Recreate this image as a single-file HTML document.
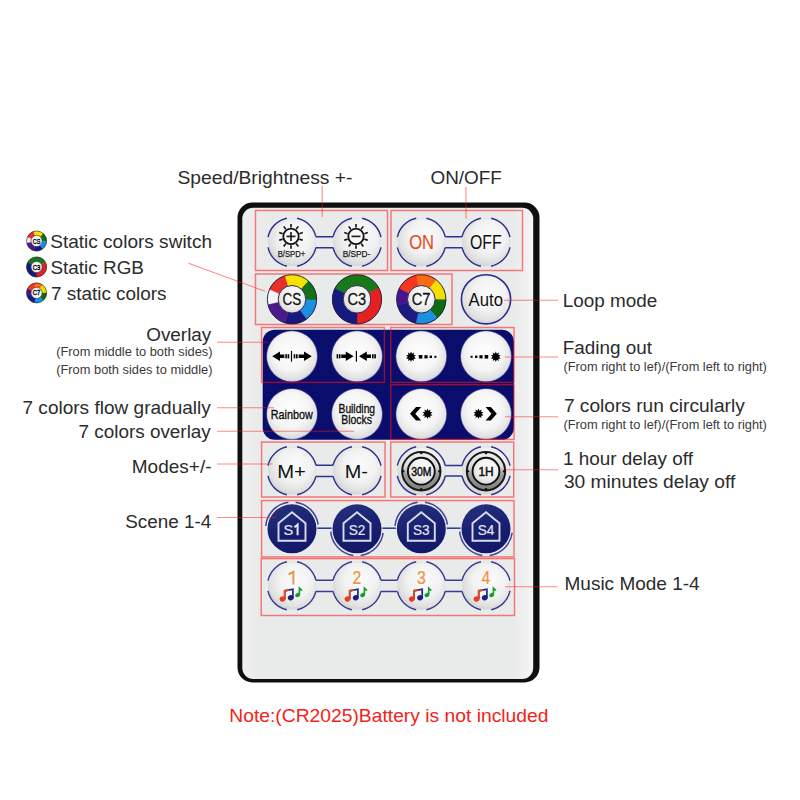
<!DOCTYPE html>
<html><head><meta charset="utf-8"><style>
html,body{margin:0;padding:0;background:#fff;width:800px;height:800px;overflow:hidden}
svg{display:block}
text{font-family:"Liberation Sans", sans-serif}
</style></head><body>
<svg width="800" height="800" viewBox="0 0 800 800">
<defs>
<radialGradient id="dome" cx="0.55" cy="0.42" r="0.62" fx="0.58" fy="0.36">
 <stop offset="0" stop-color="#fbfbfb"/>
 <stop offset="0.55" stop-color="#f2f2f2"/>
 <stop offset="0.85" stop-color="#e0e0e0"/>
 <stop offset="1" stop-color="#cdcdcf"/>
</radialGradient>
<radialGradient id="domeB" cx="0.48" cy="0.42" r="0.6">
 <stop offset="0" stop-color="#ffffff"/>
 <stop offset="0.6" stop-color="#f5f5f5"/>
 <stop offset="0.9" stop-color="#e0e0e2"/>
 <stop offset="1" stop-color="#c8c9d4"/>
</radialGradient>
<radialGradient id="glow" cx="0.5" cy="0.5" r="0.5">
 <stop offset="0.9" stop-color="#c8d0f0" stop-opacity="0.9"/>
 <stop offset="1" stop-color="#c8d0f0" stop-opacity="0"/>
</radialGradient>
<radialGradient id="shade" cx="0.5" cy="0.5" r="0.5">
 <stop offset="0.9" stop-color="#000" stop-opacity="0.10"/>
 <stop offset="1" stop-color="#000" stop-opacity="0"/>
</radialGradient>
<linearGradient id="navyG" x1="0.3" y1="0" x2="0.6" y2="1">
 <stop offset="0" stop-color="#26307e"/>
 <stop offset="0.45" stop-color="#1a2172"/>
 <stop offset="1" stop-color="#121868"/>
</linearGradient>
<linearGradient id="grayRing" x1="0" y1="0" x2="0" y2="1">
 <stop offset="0" stop-color="#eeeeee"/>
 <stop offset="0.38" stop-color="#dcdcdc"/>
 <stop offset="0.58" stop-color="#9c9c9c"/>
 <stop offset="1" stop-color="#808080"/>
</linearGradient>
<linearGradient id="surf" x1="0" y1="0" x2="1" y2="0">
 <stop offset="0" stop-color="#f0f0f0"/>
 <stop offset="0.06" stop-color="#e9eaea"/>
 <stop offset="0.93" stop-color="#e9eaea"/>
 <stop offset="0.985" stop-color="#f2f2f2"/>
 <stop offset="1" stop-color="#f4f4f4"/>
</linearGradient>
</defs>
<rect x="0" y="0" width="800" height="800" fill="#ffffff"/>
<rect x="0" y="0" width="800" height="64" fill="#fdfdfd" fill-opacity="0.6"/>
<rect x="0" y="733" width="800" height="67" fill="#fdfdfd" fill-opacity="0.6"/>

<rect x="237.5" y="202.5" width="302" height="480" rx="15" fill="#0d0f10"/>
<rect x="242.3" y="207.8" width="290.9" height="471.2" rx="11" fill="url(#surf)"/>
<rect x="262.7" y="329.8" width="251.2" height="110" rx="12" fill="#0a0d6c"/>
<path d="M268.04,237.11 A24.5,24.5 0 0 1 286.91,218.24" fill="none" stroke="#2e3390" stroke-width="1.5" opacity="1"/>
<path d="M286.91,266.16 A24.5,24.5 0 0 1 268.04,247.29" fill="none" stroke="#2e3390" stroke-width="1.5" opacity="1"/>
<path d="M297.09,218.24 A24.5,24.5 0 0 1 315.87,236.70" fill="none" stroke="#2e3390" stroke-width="1.5" opacity="1"/>
<path d="M315.87,247.70 A24.5,24.5 0 0 1 297.09,266.16" fill="none" stroke="#2e3390" stroke-width="1.5" opacity="1"/>
<path d="M315.87,236.70 H333.13 M315.87,247.70 H333.13" stroke="#2e3390" stroke-width="1.5" fill="none"/>
<path d="M333.13,236.70 A24.5,24.5 0 0 1 351.91,218.24" fill="none" stroke="#2e3390" stroke-width="1.5" opacity="1"/>
<path d="M351.91,266.16 A24.5,24.5 0 0 1 333.13,247.70" fill="none" stroke="#2e3390" stroke-width="1.5" opacity="1"/>
<path d="M362.09,218.24 A24.5,24.5 0 0 1 380.96,237.11" fill="none" stroke="#2e3390" stroke-width="1.5" opacity="1"/>
<path d="M380.96,247.29 A24.5,24.5 0 0 1 362.09,266.16" fill="none" stroke="#2e3390" stroke-width="1.5" opacity="1"/>
<path d="M397.34,237.11 A24.5,24.5 0 0 1 416.21,218.24" fill="none" stroke="#2e3390" stroke-width="1.5" opacity="1"/>
<path d="M416.21,266.16 A24.5,24.5 0 0 1 397.34,247.29" fill="none" stroke="#2e3390" stroke-width="1.5" opacity="1"/>
<path d="M426.39,218.24 A24.5,24.5 0 0 1 445.17,236.70" fill="none" stroke="#2e3390" stroke-width="1.5" opacity="1"/>
<path d="M445.17,247.70 A24.5,24.5 0 0 1 426.39,266.16" fill="none" stroke="#2e3390" stroke-width="1.5" opacity="1"/>
<path d="M445.17,236.70 H462.13 M445.17,247.70 H462.13" stroke="#2e3390" stroke-width="1.5" fill="none"/>
<path d="M462.13,236.70 A24.5,24.5 0 0 1 480.91,218.24" fill="none" stroke="#2e3390" stroke-width="1.5" opacity="1"/>
<path d="M480.91,266.16 A24.5,24.5 0 0 1 462.13,247.70" fill="none" stroke="#2e3390" stroke-width="1.5" opacity="1"/>
<path d="M491.09,218.24 A24.5,24.5 0 0 1 509.96,237.11" fill="none" stroke="#2e3390" stroke-width="1.5" opacity="1"/>
<path d="M509.96,247.29 A24.5,24.5 0 0 1 491.09,266.16" fill="none" stroke="#2e3390" stroke-width="1.5" opacity="1"/>
<circle cx="292.0" cy="242.2" r="24.7" fill="url(#shade)"/><circle cx="292.0" cy="242.2" r="23.5" fill="url(#dome)"/>
<circle cx="357.0" cy="242.2" r="24.7" fill="url(#shade)"/><circle cx="357.0" cy="242.2" r="23.5" fill="url(#dome)"/>
<circle cx="421.3" cy="242.2" r="24.7" fill="url(#shade)"/><circle cx="421.3" cy="242.2" r="23.5" fill="url(#dome)"/>
<circle cx="486.0" cy="242.2" r="24.7" fill="url(#shade)"/><circle cx="486.0" cy="242.2" r="23.5" fill="url(#dome)"/>
<circle cx="291.0" cy="236.4" r="7.7" fill="none" stroke="#111" stroke-width="1.8"/>
<line x1="291.00" y1="227.60" x2="291.00" y2="224.00" stroke="#111" stroke-width="1.6"/>
<line x1="296.17" y1="229.28" x2="298.29" y2="226.37" stroke="#111" stroke-width="1.6"/>
<line x1="299.37" y1="233.68" x2="302.79" y2="232.57" stroke="#111" stroke-width="1.6"/>
<line x1="299.37" y1="239.12" x2="302.79" y2="240.23" stroke="#111" stroke-width="1.6"/>
<line x1="296.17" y1="243.52" x2="298.29" y2="246.43" stroke="#111" stroke-width="1.6"/>
<line x1="291.00" y1="245.20" x2="291.00" y2="248.80" stroke="#111" stroke-width="1.6"/>
<line x1="285.83" y1="243.52" x2="283.71" y2="246.43" stroke="#111" stroke-width="1.6"/>
<line x1="282.63" y1="239.12" x2="279.21" y2="240.23" stroke="#111" stroke-width="1.6"/>
<line x1="282.63" y1="233.68" x2="279.21" y2="232.57" stroke="#111" stroke-width="1.6"/>
<line x1="285.83" y1="229.28" x2="283.71" y2="226.37" stroke="#111" stroke-width="1.6"/>
<line x1="286.5" y1="236.4" x2="295.5" y2="236.4" stroke="#222" stroke-width="1.7"/>
<line x1="291.0" y1="231.9" x2="291.0" y2="240.9" stroke="#222" stroke-width="1.7"/>
<text x="291.5" y="256.9" font-size="8.6" text-anchor="middle" fill="#1a1a1a" stroke="#1a1a1a" stroke-width="0.25" textLength="27.5" lengthAdjust="spacingAndGlyphs">B/SPD+</text>
<circle cx="356.0" cy="236.4" r="7.7" fill="none" stroke="#111" stroke-width="1.8"/>
<line x1="356.00" y1="227.60" x2="356.00" y2="224.00" stroke="#111" stroke-width="1.6"/>
<line x1="361.17" y1="229.28" x2="363.29" y2="226.37" stroke="#111" stroke-width="1.6"/>
<line x1="364.37" y1="233.68" x2="367.79" y2="232.57" stroke="#111" stroke-width="1.6"/>
<line x1="364.37" y1="239.12" x2="367.79" y2="240.23" stroke="#111" stroke-width="1.6"/>
<line x1="361.17" y1="243.52" x2="363.29" y2="246.43" stroke="#111" stroke-width="1.6"/>
<line x1="356.00" y1="245.20" x2="356.00" y2="248.80" stroke="#111" stroke-width="1.6"/>
<line x1="350.83" y1="243.52" x2="348.71" y2="246.43" stroke="#111" stroke-width="1.6"/>
<line x1="347.63" y1="239.12" x2="344.21" y2="240.23" stroke="#111" stroke-width="1.6"/>
<line x1="347.63" y1="233.68" x2="344.21" y2="232.57" stroke="#111" stroke-width="1.6"/>
<line x1="350.83" y1="229.28" x2="348.71" y2="226.37" stroke="#111" stroke-width="1.6"/>
<line x1="351.5" y1="236.4" x2="360.5" y2="236.4" stroke="#222" stroke-width="1.7"/>
<text x="356.5" y="256.9" font-size="8.6" text-anchor="middle" fill="#1a1a1a" stroke="#1a1a1a" stroke-width="0.25" textLength="27.5" lengthAdjust="spacingAndGlyphs">B/SPD-</text>
<text x="421.6" y="248.8" font-size="19.3" text-anchor="middle" fill="#e8451c" textLength="24.9" lengthAdjust="spacingAndGlyphs">ON</text>
<text x="485.9" y="248.8" font-size="19.3" text-anchor="middle" fill="#111" textLength="31.8" lengthAdjust="spacingAndGlyphs">OFF</text>
<circle cx="292.0" cy="299.3" r="25.6" fill="url(#shade)"/>
<path d="M268.03,304.83 A24.6,24.6 0 0 1 269.53,289.29 L279.76,293.85 A13.4,13.4 0 0 0 278.94,302.31 Z" fill="#f4f4f4" stroke="#f4f4f4" stroke-width="0.4"/>
<path d="M269.53,289.29 A24.6,24.6 0 0 1 285.22,275.65 L288.31,286.42 A13.4,13.4 0 0 0 279.76,293.85 Z" fill="#e8302a" stroke="#e8302a" stroke-width="0.4"/>
<path d="M285.22,275.65 A24.6,24.6 0 0 1 308.46,281.02 L300.97,289.34 A13.4,13.4 0 0 0 288.31,286.42 Z" fill="#f6e100" stroke="#f6e100" stroke-width="0.4"/>
<path d="M308.46,281.02 A24.6,24.6 0 0 1 316.59,300.16 L305.39,299.77 A13.4,13.4 0 0 0 300.97,289.34 Z" fill="#137016" stroke="#137016" stroke-width="0.4"/>
<path d="M316.59,300.16 A24.6,24.6 0 0 1 306.46,319.20 L299.88,310.14 A13.4,13.4 0 0 0 305.39,299.77 Z" fill="#1d8fe2" stroke="#1d8fe2" stroke-width="0.4"/>
<path d="M306.46,319.20 A24.6,24.6 0 0 1 284.81,322.83 L288.08,312.11 A13.4,13.4 0 0 0 299.88,310.14 Z" fill="#18197e" stroke="#18197e" stroke-width="0.4"/>
<path d="M284.81,322.83 A24.6,24.6 0 0 1 268.03,304.83 L278.94,302.31 A13.4,13.4 0 0 0 288.08,312.11 Z" fill="#4a1a8c" stroke="#4a1a8c" stroke-width="0.4"/>
<circle cx="292.0" cy="299.3" r="24.6" fill="none" stroke="#1a1a3a" stroke-width="0.9"/>
<circle cx="292.0" cy="299.3" r="13.8" fill="url(#dome)" stroke="#2a2a50" stroke-width="1"/>
<text x="291.8" y="305.3" font-size="17" text-anchor="middle" fill="#111" stroke="#111" stroke-width="0.3" textLength="18.7" lengthAdjust="spacingAndGlyphs">CS</text>
<circle cx="357.0" cy="299.3" r="25.6" fill="url(#shade)"/>
<path d="M334.89,288.52 A24.6,24.6 0 0 1 378.82,287.94 L368.89,293.11 A13.4,13.4 0 0 0 344.96,293.43 Z" fill="#167a1a" stroke="#167a1a" stroke-width="0.4"/>
<path d="M378.82,287.94 A24.6,24.6 0 0 1 357.00,323.90 L357.00,312.70 A13.4,13.4 0 0 0 368.89,293.11 Z" fill="#e62020" stroke="#e62020" stroke-width="0.4"/>
<path d="M357.00,323.90 A24.6,24.6 0 0 1 334.89,288.52 L344.96,293.43 A13.4,13.4 0 0 0 357.00,312.70 Z" fill="#161a80" stroke="#161a80" stroke-width="0.4"/>
<circle cx="357.0" cy="299.3" r="24.6" fill="none" stroke="#1a1a3a" stroke-width="0.9"/>
<circle cx="357.0" cy="299.3" r="13.8" fill="url(#dome)" stroke="#2a2a50" stroke-width="1"/>
<text x="356.8" y="305.3" font-size="17" text-anchor="middle" fill="#111" stroke="#111" stroke-width="0.3" textLength="18.7" lengthAdjust="spacingAndGlyphs">C3</text>
<circle cx="421.3" cy="299.3" r="25.6" fill="url(#shade)"/>
<path d="M397.43,305.25 A24.6,24.6 0 0 1 399.38,288.13 L409.36,293.22 A13.4,13.4 0 0 0 408.30,302.54 Z" fill="#4a1490" stroke="#4a1490" stroke-width="0.4"/>
<path d="M399.38,288.13 A24.6,24.6 0 0 1 416.61,275.15 L418.74,286.15 A13.4,13.4 0 0 0 409.36,293.22 Z" fill="#f5381e" stroke="#f5381e" stroke-width="0.4"/>
<path d="M416.61,275.15 A24.6,24.6 0 0 1 436.45,279.91 L429.55,288.74 A13.4,13.4 0 0 0 418.74,286.15 Z" fill="#f96a14" stroke="#f96a14" stroke-width="0.4"/>
<path d="M436.45,279.91 A24.6,24.6 0 0 1 445.90,299.73 L434.70,299.53 A13.4,13.4 0 0 0 429.55,288.74 Z" fill="#f3df00" stroke="#f3df00" stroke-width="0.4"/>
<path d="M445.90,299.73 A24.6,24.6 0 0 1 437.11,318.14 L429.91,309.56 A13.4,13.4 0 0 0 434.70,299.53 Z" fill="#106a12" stroke="#106a12" stroke-width="0.4"/>
<path d="M437.11,318.14 A24.6,24.6 0 0 1 415.77,323.27 L418.29,312.36 A13.4,13.4 0 0 0 429.91,309.56 Z" fill="#1a90e0" stroke="#1a90e0" stroke-width="0.4"/>
<path d="M415.77,323.27 A24.6,24.6 0 0 1 397.43,305.25 L408.30,302.54 A13.4,13.4 0 0 0 418.29,312.36 Z" fill="#1c1a80" stroke="#1c1a80" stroke-width="0.4"/>
<circle cx="421.3" cy="299.3" r="24.6" fill="none" stroke="#1a1a3a" stroke-width="0.9"/>
<circle cx="421.3" cy="299.3" r="13.8" fill="url(#dome)" stroke="#2a2a50" stroke-width="1"/>
<text x="421.1" y="305.3" font-size="17" text-anchor="middle" fill="#111" stroke="#111" stroke-width="0.3" textLength="18.7" lengthAdjust="spacingAndGlyphs">C7</text>
<circle cx="486.0" cy="299.3" r="25.599999999999998" fill="url(#shade)"/><circle cx="486.0" cy="299.3" r="24.4" fill="url(#dome)"/>
<circle cx="486.0" cy="299.3" r="24.6" fill="none" stroke="#2c2f8e" stroke-width="1.6"/>
<text x="485.8" y="305.6" font-size="18" text-anchor="middle" fill="#111" textLength="34.4" lengthAdjust="spacingAndGlyphs">Auto</text>
<circle cx="292.0" cy="356.3" r="26.2" fill="url(#glow)"/>
<circle cx="292.0" cy="356.3" r="25.0" fill="url(#domeB)"/>
<circle cx="357.0" cy="356.3" r="26.2" fill="url(#glow)"/>
<circle cx="357.0" cy="356.3" r="25.0" fill="url(#domeB)"/>
<circle cx="421.3" cy="356.3" r="26.2" fill="url(#glow)"/>
<circle cx="421.3" cy="356.3" r="25.0" fill="url(#domeB)"/>
<circle cx="486.0" cy="356.3" r="26.2" fill="url(#glow)"/>
<circle cx="486.0" cy="356.3" r="25.0" fill="url(#domeB)"/>
<circle cx="292.0" cy="414.0" r="26.2" fill="url(#glow)"/>
<circle cx="292.0" cy="414.0" r="25.0" fill="url(#domeB)"/>
<circle cx="357.0" cy="414.0" r="26.2" fill="url(#glow)"/>
<circle cx="357.0" cy="414.0" r="25.0" fill="url(#domeB)"/>
<circle cx="421.3" cy="414.0" r="26.2" fill="url(#glow)"/>
<circle cx="421.3" cy="414.0" r="25.0" fill="url(#domeB)"/>
<circle cx="486.0" cy="414.0" r="26.2" fill="url(#glow)"/>
<circle cx="486.0" cy="414.0" r="25.0" fill="url(#domeB)"/>
<path d="M284.3,354.55 H280.0 V351.5 L272.2,356.3 L280.0,361.1 V358.05 H284.3 Z" fill="#000"/>
<rect x="285.3" y="354.2" width="1.6" height="4.2" fill="#000"/><rect x="287.6" y="354.2" width="1.6" height="4.2" fill="#000"/>
<rect x="290.9" y="350.90000000000003" width="1.2" height="10.8" fill="#000"/>
<rect x="293.7" y="354.2" width="1.6" height="4.2" fill="#000"/><rect x="296.0" y="354.2" width="1.6" height="4.2" fill="#000"/>
<path d="M298.6,354.55 H304.0 V351.5 L311.8,356.3 L304.0,361.1 V358.05 H298.6 Z" fill="#000"/>
<rect x="336.6" y="354.2" width="1.6" height="4.2" fill="#000"/><rect x="338.9" y="354.2" width="1.6" height="4.2" fill="#000"/>
<path d="M341.2,354.55 H345.8 V351.5 L353.6,356.3 L345.8,361.1 V358.05 H341.2 Z" fill="#000"/>
<rect x="355.8" y="350.90000000000003" width="1.2" height="10.8" fill="#000"/>
<path d="M371.0,354.55 H366.8 V351.5 L359.0,356.3 L366.8,361.1 V358.05 H371.0 Z" fill="#000"/>
<rect x="372.0" y="354.2" width="1.6" height="4.2" fill="#000"/><rect x="374.3" y="354.2" width="1.6" height="4.2" fill="#000"/>
<polygon points="411.00,351.60 411.99,353.76 414.06,352.59 413.59,354.92 415.95,355.19 414.20,356.80 415.95,358.41 413.59,358.68 414.06,361.01 411.99,359.84 411.00,362.00 410.01,359.84 407.94,361.01 408.41,358.68 406.05,358.41 407.80,356.80 406.05,355.19 408.41,354.92 407.94,352.59 410.01,353.76" fill="#000"/>
<rect x="418.80" y="355.00" width="3.6" height="3.6" fill="#000"/>
<rect x="424.40" y="355.20" width="3.2" height="3.2" fill="#000"/>
<rect x="429.60" y="355.60" width="2.4" height="2.4" fill="#000"/>
<rect x="434.40" y="355.80" width="2.0" height="2.0" fill="#000"/>
<rect x="470.60" y="355.80" width="2.0" height="2.0" fill="#000"/>
<rect x="475.00" y="355.60" width="2.4" height="2.4" fill="#000"/>
<rect x="479.40" y="355.20" width="3.2" height="3.2" fill="#000"/>
<rect x="484.60" y="355.00" width="3.6" height="3.6" fill="#000"/>
<polygon points="495.80,351.60 496.79,353.76 498.86,352.59 498.39,354.92 500.75,355.19 499.00,356.80 500.75,358.41 498.39,358.68 498.86,361.01 496.79,359.84 495.80,362.00 494.81,359.84 492.74,361.01 493.21,358.68 490.85,358.41 492.60,356.80 490.85,355.19 493.21,354.92 492.74,352.59 494.81,353.76" fill="#000"/>
<text x="291.8" y="418.5" font-size="12.6" text-anchor="middle" fill="#111" stroke="#111" stroke-width="0.35" textLength="42" lengthAdjust="spacingAndGlyphs">Rainbow</text>
<text x="356.8" y="412.5" font-size="12.2" text-anchor="middle" fill="#111" stroke="#111" stroke-width="0.35" textLength="36.5" lengthAdjust="spacingAndGlyphs">Building</text>
<text x="356.6" y="423.6" font-size="12.2" text-anchor="middle" fill="#111" stroke="#111" stroke-width="0.35" textLength="30.8" lengthAdjust="spacingAndGlyphs">Blocks</text>
<path d="M410.0,413.8 L416.0,407.0 H421.2 L415.3,413.8 L421.2,420.6 H416.0 Z" fill="#000"/>
<polygon points="427.50,408.60 428.49,410.76 430.56,409.59 430.09,411.92 432.45,412.19 430.70,413.80 432.45,415.41 430.09,415.68 430.56,418.01 428.49,416.84 427.50,419.00 426.51,416.84 424.44,418.01 424.91,415.68 422.55,415.41 424.30,413.80 422.55,412.19 424.91,411.92 424.44,409.59 426.51,410.76" fill="#000"/>
<polygon points="478.50,408.60 479.49,410.76 481.56,409.59 481.09,411.92 483.45,412.19 481.70,413.80 483.45,415.41 481.09,415.68 481.56,418.01 479.49,416.84 478.50,419.00 477.51,416.84 475.44,418.01 475.91,415.68 473.55,415.41 475.30,413.80 473.55,412.19 475.91,411.92 475.44,409.59 477.51,410.76" fill="#000"/>
<path d="M496.8,413.8 L490.8,407.0 H485.6 L491.5,413.8 L485.6,420.6 H490.8 Z" fill="#000"/>
<path d="M268.04,465.71 A24.5,24.5 0 0 1 286.91,446.84" fill="none" stroke="#2e3390" stroke-width="1.5" opacity="1"/>
<path d="M286.91,494.76 A24.5,24.5 0 0 1 268.04,475.89" fill="none" stroke="#2e3390" stroke-width="1.5" opacity="1"/>
<path d="M297.09,446.84 A24.5,24.5 0 0 1 315.85,465.20" fill="none" stroke="#2e3390" stroke-width="1.5" opacity="1"/>
<path d="M315.85,476.40 A24.5,24.5 0 0 1 297.09,494.76" fill="none" stroke="#2e3390" stroke-width="1.5" opacity="1"/>
<path d="M315.85,465.20 H333.15 M315.85,476.40 H333.15" stroke="#2e3390" stroke-width="1.5" fill="none"/>
<path d="M333.15,465.20 A24.5,24.5 0 0 1 351.91,446.84" fill="none" stroke="#2e3390" stroke-width="1.5" opacity="1"/>
<path d="M351.91,494.76 A24.5,24.5 0 0 1 333.15,476.40" fill="none" stroke="#2e3390" stroke-width="1.5" opacity="1"/>
<path d="M362.09,446.84 A24.5,24.5 0 0 1 380.96,465.71" fill="none" stroke="#2e3390" stroke-width="1.5" opacity="1"/>
<path d="M380.96,475.89 A24.5,24.5 0 0 1 362.09,494.76" fill="none" stroke="#2e3390" stroke-width="1.5" opacity="1"/>
<path d="M397.34,465.71 A24.5,24.5 0 0 1 416.21,446.84" fill="none" stroke="#2e3390" stroke-width="1.5" opacity="1"/>
<path d="M416.21,494.76 A24.5,24.5 0 0 1 397.34,475.89" fill="none" stroke="#2e3390" stroke-width="1.5" opacity="1"/>
<path d="M426.39,446.84 A24.5,24.5 0 0 1 445.24,465.60" fill="none" stroke="#2e3390" stroke-width="1.5" opacity="1"/>
<path d="M445.24,476.00 A24.5,24.5 0 0 1 426.39,494.76" fill="none" stroke="#2e3390" stroke-width="1.5" opacity="1"/>
<path d="M445.24,465.60 H462.06 M445.24,476.00 H462.06" stroke="#2e3390" stroke-width="1.5" fill="none"/>
<path d="M462.06,465.60 A24.5,24.5 0 0 1 480.91,446.84" fill="none" stroke="#2e3390" stroke-width="1.5" opacity="1"/>
<path d="M480.91,494.76 A24.5,24.5 0 0 1 462.06,476.00" fill="none" stroke="#2e3390" stroke-width="1.5" opacity="1"/>
<path d="M491.09,446.84 A24.5,24.5 0 0 1 509.96,465.71" fill="none" stroke="#2e3390" stroke-width="1.5" opacity="1"/>
<path d="M509.96,475.89 A24.5,24.5 0 0 1 491.09,494.76" fill="none" stroke="#2e3390" stroke-width="1.5" opacity="1"/>
<circle cx="292.0" cy="470.8" r="24.7" fill="url(#shade)"/><circle cx="292.0" cy="470.8" r="23.5" fill="url(#dome)"/>
<circle cx="357.0" cy="470.8" r="24.7" fill="url(#shade)"/><circle cx="357.0" cy="470.8" r="23.5" fill="url(#dome)"/>
<circle cx="421.3" cy="470.8" r="24.7" fill="url(#shade)"/><circle cx="421.3" cy="470.8" r="23.5" fill="url(#dome)"/>
<circle cx="486.0" cy="470.8" r="24.7" fill="url(#shade)"/><circle cx="486.0" cy="470.8" r="23.5" fill="url(#dome)"/>
<text x="291.5" y="478.2" font-size="17.5" text-anchor="middle" fill="#111" textLength="28.7" lengthAdjust="spacingAndGlyphs">M+</text>
<text x="356.4" y="478.2" font-size="17.5" text-anchor="middle" fill="#111" textLength="23.2" lengthAdjust="spacingAndGlyphs">M-</text>
<circle cx="421.3" cy="471.2" r="19.2" fill="url(#grayRing)" stroke="#1a1a1a" stroke-width="2.0"/>
<circle cx="421.3" cy="471.2" r="13.4" fill="url(#dome)" stroke="#111" stroke-width="1.9"/>
<circle cx="439.50" cy="471.20" r="1.3" fill="#111"/>
<circle cx="421.30" cy="489.40" r="1.3" fill="#111"/>
<circle cx="403.10" cy="471.20" r="1.3" fill="#111"/>
<circle cx="421.30" cy="453.00" r="1.3" fill="#111"/>
<text x="421.3" y="475.8" font-size="12.2" text-anchor="middle" fill="#111" stroke="#111" stroke-width="0.5" textLength="20.3" lengthAdjust="spacingAndGlyphs">30M</text>
<circle cx="486.0" cy="471.2" r="19.2" fill="url(#grayRing)" stroke="#1a1a1a" stroke-width="2.0"/>
<circle cx="486.0" cy="471.2" r="13.4" fill="url(#dome)" stroke="#111" stroke-width="1.9"/>
<circle cx="504.20" cy="471.20" r="1.3" fill="#111"/>
<circle cx="486.00" cy="489.40" r="1.3" fill="#111"/>
<circle cx="467.80" cy="471.20" r="1.3" fill="#111"/>
<circle cx="486.00" cy="453.00" r="1.3" fill="#111"/>
<text x="486.0" y="475.8" font-size="12.2" text-anchor="middle" fill="#111" stroke="#111" stroke-width="0.5" textLength="15.2" lengthAdjust="spacingAndGlyphs">1H</text>
<path d="M265.70,526.00 A26.4,26.4 0 0 1 288.33,502.16" fill="none" stroke="#2e3390" stroke-width="1.5" opacity="0.9"/>
<path d="M295.67,502.16 A26.4,26.4 0 0 1 318.14,524.63" fill="none" stroke="#2e3390" stroke-width="1.5" opacity="0.9"/>
<line x1="317.4" y1="528.1999999999999" x2="331.6" y2="528.1999999999999" stroke="#2e3390" stroke-width="1.5"/>
<path d="M383.14,532.97 A26.4,26.4 0 0 1 360.67,555.44" fill="none" stroke="#2e3390" stroke-width="1.5" opacity="0.9"/>
<path d="M353.33,555.44 A26.4,26.4 0 0 1 330.70,531.60" fill="none" stroke="#2e3390" stroke-width="1.5" opacity="0.9"/>
<line x1="382.4" y1="528.1999999999999" x2="395.90000000000003" y2="528.1999999999999" stroke="#2e3390" stroke-width="1.5"/>
<path d="M395.00,526.00 A26.4,26.4 0 0 1 417.63,502.16" fill="none" stroke="#2e3390" stroke-width="1.5" opacity="0.9"/>
<path d="M424.97,502.16 A26.4,26.4 0 0 1 447.44,524.63" fill="none" stroke="#2e3390" stroke-width="1.5" opacity="0.9"/>
<line x1="446.7" y1="528.1999999999999" x2="460.6" y2="528.1999999999999" stroke="#2e3390" stroke-width="1.5"/>
<path d="M512.14,532.97 A26.4,26.4 0 0 1 489.67,555.44" fill="none" stroke="#2e3390" stroke-width="1.5" opacity="0.9"/>
<path d="M482.33,555.44 A26.4,26.4 0 0 1 459.70,531.60" fill="none" stroke="#2e3390" stroke-width="1.5" opacity="0.9"/>
<circle cx="292.0" cy="528.8" r="24.5" fill="url(#navyG)"/>
<path d="M292.0,512.1999999999999 L305.5,523.1999999999999 V540.8 H278.5 V523.1999999999999 Z" fill="none" stroke="#d8dbea" stroke-width="1.9" stroke-linejoin="miter"/>
<text x="288.4" y="535.3" font-size="14.6" text-anchor="middle" fill="#e2e4ee" stroke="#e2e4ee" stroke-width="0.2">S</text>
<path d="M294.4,527.1999999999999 L297.6,524.5999999999999 V535.1999999999999" fill="none" stroke="#e6e8f2" stroke-width="2.0"/>
<circle cx="357.0" cy="528.8" r="24.5" fill="url(#navyG)"/>
<path d="M357.0,512.1999999999999 L370.5,523.1999999999999 V540.8 H343.5 V523.1999999999999 Z" fill="none" stroke="#d8dbea" stroke-width="1.9" stroke-linejoin="miter"/>
<text x="357.0" y="535.3" font-size="14.6" text-anchor="middle" fill="#e2e4ee" stroke="#e2e4ee" stroke-width="0.2" textLength="16.6" lengthAdjust="spacingAndGlyphs">S2</text>
<circle cx="421.3" cy="528.8" r="24.5" fill="url(#navyG)"/>
<path d="M421.3,512.1999999999999 L434.8,523.1999999999999 V540.8 H407.8 V523.1999999999999 Z" fill="none" stroke="#d8dbea" stroke-width="1.9" stroke-linejoin="miter"/>
<text x="421.3" y="535.3" font-size="14.6" text-anchor="middle" fill="#e2e4ee" stroke="#e2e4ee" stroke-width="0.2" textLength="16.6" lengthAdjust="spacingAndGlyphs">S3</text>
<circle cx="486.0" cy="528.8" r="24.5" fill="url(#navyG)"/>
<path d="M486.0,512.1999999999999 L499.5,523.1999999999999 V540.8 H472.5 V523.1999999999999 Z" fill="none" stroke="#d8dbea" stroke-width="1.9" stroke-linejoin="miter"/>
<text x="486.0" y="535.3" font-size="14.6" text-anchor="middle" fill="#e2e4ee" stroke="#e2e4ee" stroke-width="0.2" textLength="16.6" lengthAdjust="spacingAndGlyphs">S4</text>
<path d="M268.04,580.71 A24.5,24.5 0 0 1 286.91,561.84" fill="none" stroke="#383d92" stroke-width="1.5" opacity="1"/>
<path d="M286.91,609.76 A24.5,24.5 0 0 1 268.04,590.89" fill="none" stroke="#383d92" stroke-width="1.5" opacity="1"/>
<path d="M297.09,561.84 A24.5,24.5 0 0 1 315.85,580.20" fill="none" stroke="#383d92" stroke-width="1.5" opacity="1"/>
<path d="M315.85,591.40 A24.5,24.5 0 0 1 297.09,609.76" fill="none" stroke="#383d92" stroke-width="1.5" opacity="1"/>
<path d="M315.85,580.20 H333.15 M315.85,591.40 H333.15" stroke="#383d92" stroke-width="1.5" fill="none"/>
<path d="M333.15,580.20 A24.5,24.5 0 0 1 351.91,561.84" fill="none" stroke="#383d92" stroke-width="1.5" opacity="1"/>
<path d="M351.91,609.76 A24.5,24.5 0 0 1 333.15,591.40" fill="none" stroke="#383d92" stroke-width="1.5" opacity="1"/>
<path d="M362.09,561.84 A24.5,24.5 0 0 1 380.85,580.20" fill="none" stroke="#383d92" stroke-width="1.5" opacity="1"/>
<path d="M380.85,591.40 A24.5,24.5 0 0 1 362.09,609.76" fill="none" stroke="#383d92" stroke-width="1.5" opacity="1"/>
<path d="M380.85,580.20 H397.45 M380.85,591.40 H397.45" stroke="#383d92" stroke-width="1.5" fill="none"/>
<path d="M397.45,580.20 A24.5,24.5 0 0 1 416.21,561.84" fill="none" stroke="#383d92" stroke-width="1.5" opacity="1"/>
<path d="M416.21,609.76 A24.5,24.5 0 0 1 397.45,591.40" fill="none" stroke="#383d92" stroke-width="1.5" opacity="1"/>
<path d="M426.39,561.84 A24.5,24.5 0 0 1 445.15,580.20" fill="none" stroke="#383d92" stroke-width="1.5" opacity="1"/>
<path d="M445.15,591.40 A24.5,24.5 0 0 1 426.39,609.76" fill="none" stroke="#383d92" stroke-width="1.5" opacity="1"/>
<path d="M445.15,580.20 H462.15 M445.15,591.40 H462.15" stroke="#383d92" stroke-width="1.5" fill="none"/>
<path d="M462.15,580.20 A24.5,24.5 0 0 1 480.91,561.84" fill="none" stroke="#383d92" stroke-width="1.5" opacity="1"/>
<path d="M480.91,609.76 A24.5,24.5 0 0 1 462.15,591.40" fill="none" stroke="#383d92" stroke-width="1.5" opacity="1"/>
<path d="M491.09,561.84 A24.5,24.5 0 0 1 509.96,580.71" fill="none" stroke="#383d92" stroke-width="1.5" opacity="1"/>
<path d="M509.96,590.89 A24.5,24.5 0 0 1 491.09,609.76" fill="none" stroke="#383d92" stroke-width="1.5" opacity="1"/>
<circle cx="292.0" cy="585.8" r="24.7" fill="url(#shade)"/><circle cx="292.0" cy="585.8" r="23.5" fill="url(#dome)"/>
<circle cx="357.0" cy="585.8" r="24.7" fill="url(#shade)"/><circle cx="357.0" cy="585.8" r="23.5" fill="url(#dome)"/>
<circle cx="421.3" cy="585.8" r="24.7" fill="url(#shade)"/><circle cx="421.3" cy="585.8" r="23.5" fill="url(#dome)"/>
<circle cx="486.0" cy="585.8" r="24.7" fill="url(#shade)"/><circle cx="486.0" cy="585.8" r="23.5" fill="url(#dome)"/>
<path d="M288.6,574.4 L293.4,571.8 V584.4" fill="none" stroke="#f0923a" stroke-width="1.9"/>
<path d="M284.7,598.8 V590.8 L292.9,589.1999999999999 V597.5999999999999" fill="none" stroke="#1c2a8c" stroke-width="1.7"/><path d="M284.7,598.8 V590.8 L289.0,590.0" fill="none" stroke="#e84a20" stroke-width="1.7"/><ellipse cx="282.6" cy="599.0" rx="3.0" ry="2.6" fill="#ea3c1c" transform="rotate(-20 282.6 599.0)"/><ellipse cx="290.8" cy="597.8" rx="3.0" ry="2.6" fill="#18207e" transform="rotate(-20 290.8 597.8)"/><path d="M299.4,594.8 V588.1999999999999 L302.0,590.5999999999999" fill="none" stroke="#1a9a2a" stroke-width="1.6"/><ellipse cx="297.6" cy="595.0999999999999" rx="2.5" ry="2.1" fill="#1a9a2a" transform="rotate(-20 297.6 595.0999999999999)"/>
<text x="357.0" y="584.4" font-size="19" text-anchor="middle" fill="#f0923a" stroke="#f0923a" stroke-width="0.2" textLength="8.8" lengthAdjust="spacingAndGlyphs">2</text>
<path d="M349.7,598.8 V590.8 L357.9,589.1999999999999 V597.5999999999999" fill="none" stroke="#1c2a8c" stroke-width="1.7"/><path d="M349.7,598.8 V590.8 L354.0,590.0" fill="none" stroke="#e84a20" stroke-width="1.7"/><ellipse cx="347.6" cy="599.0" rx="3.0" ry="2.6" fill="#ea3c1c" transform="rotate(-20 347.6 599.0)"/><ellipse cx="355.8" cy="597.8" rx="3.0" ry="2.6" fill="#18207e" transform="rotate(-20 355.8 597.8)"/><path d="M364.4,594.8 V588.1999999999999 L367.0,590.5999999999999" fill="none" stroke="#1a9a2a" stroke-width="1.6"/><ellipse cx="362.6" cy="595.0999999999999" rx="2.5" ry="2.1" fill="#1a9a2a" transform="rotate(-20 362.6 595.0999999999999)"/>
<text x="421.3" y="584.4" font-size="19" text-anchor="middle" fill="#f0923a" stroke="#f0923a" stroke-width="0.2" textLength="8.8" lengthAdjust="spacingAndGlyphs">3</text>
<path d="M414.0,598.8 V590.8 L422.2,589.1999999999999 V597.5999999999999" fill="none" stroke="#1c2a8c" stroke-width="1.7"/><path d="M414.0,598.8 V590.8 L418.3,590.0" fill="none" stroke="#e84a20" stroke-width="1.7"/><ellipse cx="411.90000000000003" cy="599.0" rx="3.0" ry="2.6" fill="#ea3c1c" transform="rotate(-20 411.90000000000003 599.0)"/><ellipse cx="420.1" cy="597.8" rx="3.0" ry="2.6" fill="#18207e" transform="rotate(-20 420.1 597.8)"/><path d="M428.7,594.8 V588.1999999999999 L431.3,590.5999999999999" fill="none" stroke="#1a9a2a" stroke-width="1.6"/><ellipse cx="426.90000000000003" cy="595.0999999999999" rx="2.5" ry="2.1" fill="#1a9a2a" transform="rotate(-20 426.90000000000003 595.0999999999999)"/>
<text x="486.0" y="584.4" font-size="19" text-anchor="middle" fill="#f0923a" stroke="#f0923a" stroke-width="0.2" textLength="8.8" lengthAdjust="spacingAndGlyphs">4</text>
<path d="M478.7,598.8 V590.8 L486.9,589.1999999999999 V597.5999999999999" fill="none" stroke="#1c2a8c" stroke-width="1.7"/><path d="M478.7,598.8 V590.8 L483.0,590.0" fill="none" stroke="#e84a20" stroke-width="1.7"/><ellipse cx="476.6" cy="599.0" rx="3.0" ry="2.6" fill="#ea3c1c" transform="rotate(-20 476.6 599.0)"/><ellipse cx="484.8" cy="597.8" rx="3.0" ry="2.6" fill="#18207e" transform="rotate(-20 484.8 597.8)"/><path d="M493.4,594.8 V588.1999999999999 L496.0,590.5999999999999" fill="none" stroke="#1a9a2a" stroke-width="1.6"/><ellipse cx="491.6" cy="595.0999999999999" rx="2.5" ry="2.1" fill="#1a9a2a" transform="rotate(-20 491.6 595.0999999999999)"/>
<rect x="255.5" y="210.5" width="132.0" height="60.0" fill="none" stroke="rgba(255,20,20,0.55)" stroke-width="1.45"/>
<rect x="391" y="210.5" width="131.5" height="60.0" fill="none" stroke="rgba(255,20,20,0.55)" stroke-width="1.45"/>
<rect x="255.5" y="274" width="196.5" height="50.5" fill="none" stroke="rgba(255,20,20,0.55)" stroke-width="1.45"/>
<rect x="261.6" y="327.5" width="122.79999999999995" height="54.89999999999998" fill="none" stroke="rgba(255,20,20,0.55)" stroke-width="1.45"/>
<rect x="390.7" y="327.5" width="123.30000000000001" height="54.89999999999998" fill="none" stroke="rgba(255,20,20,0.55)" stroke-width="1.45"/>
<rect x="390.7" y="384.7" width="123.30000000000001" height="54.69999999999999" fill="none" stroke="rgba(255,20,20,0.55)" stroke-width="1.45"/>
<rect x="261.6" y="442.1" width="123.39999999999998" height="54.89999999999998" fill="none" stroke="rgba(255,20,20,0.55)" stroke-width="1.45"/>
<rect x="390.7" y="442.1" width="123.00000000000006" height="54.89999999999998" fill="none" stroke="rgba(255,20,20,0.55)" stroke-width="1.45"/>
<rect x="261.6" y="500.6" width="252.39999999999998" height="56.299999999999955" fill="none" stroke="rgba(255,20,20,0.55)" stroke-width="1.45"/>
<rect x="261.2" y="558.6" width="253.3" height="56.89999999999998" fill="none" stroke="rgba(255,20,20,0.55)" stroke-width="1.45"/>
<line x1="322.2" y1="186" x2="322.2" y2="217" stroke="rgba(255,20,20,0.5)" stroke-width="1.1"/>
<line x1="466" y1="187" x2="466" y2="218.5" stroke="rgba(255,20,20,0.5)" stroke-width="1.1"/>
<line x1="188.5" y1="263.3" x2="265" y2="291.3" stroke="rgba(255,20,20,0.5)" stroke-width="1.1"/>
<line x1="504" y1="300.3" x2="558" y2="300.3" stroke="rgba(255,20,20,0.5)" stroke-width="1.1"/>
<line x1="217" y1="342.3" x2="268" y2="342.3" stroke="rgba(255,20,20,0.5)" stroke-width="1.1"/>
<line x1="504.7" y1="357" x2="558" y2="357" stroke="rgba(255,20,20,0.5)" stroke-width="1.1"/>
<line x1="217" y1="407.7" x2="274" y2="407.7" stroke="rgba(255,20,20,0.5)" stroke-width="1.1"/>
<line x1="217" y1="431.2" x2="354" y2="431.2" stroke="rgba(255,20,20,0.5)" stroke-width="1.1"/>
<line x1="505" y1="416.7" x2="558" y2="416.7" stroke="rgba(255,20,20,0.5)" stroke-width="1.1"/>
<line x1="217" y1="464" x2="272.5" y2="464" stroke="rgba(255,20,20,0.5)" stroke-width="1.1"/>
<line x1="504.7" y1="469.8" x2="558" y2="469.8" stroke="rgba(255,20,20,0.5)" stroke-width="1.1"/>
<line x1="217" y1="517.5" x2="276.5" y2="517.5" stroke="rgba(255,20,20,0.5)" stroke-width="1.1"/>
<line x1="505" y1="586.7" x2="557.5" y2="586.7" stroke="rgba(255,20,20,0.5)" stroke-width="1.1"/>
<text x="177.5" y="184.3" font-size="19.25" text-anchor="start" fill="#2b2b2b">Speed/Brightness +-</text>
<text x="430.5" y="183.5" font-size="18.9" text-anchor="start" fill="#2b2b2b">ON/OFF</text>
<text x="50.2" y="247.5" font-size="19.05" text-anchor="start" fill="#2b2b2b">Static colors switch</text>
<text x="50.5" y="273.8" font-size="18.9" text-anchor="start" fill="#2b2b2b">Static RGB</text>
<text x="51" y="300" font-size="18.9" text-anchor="start" fill="#2b2b2b">7 static colors</text>
<text x="211.3" y="340.5" font-size="18.9" text-anchor="end" fill="#2b2b2b">Overlay</text>
<text x="212.5" y="355.8" font-size="12.85" text-anchor="end" fill="#3a3a3a">(From middle to both sides)</text>
<text x="212.5" y="373.8" font-size="12.85" text-anchor="end" fill="#3a3a3a">(From both sides to middle)</text>
<text x="210.8" y="414.2" font-size="19.05" text-anchor="end" fill="#2b2b2b">7 colors flow gradually</text>
<text x="210.8" y="438" font-size="18.9" text-anchor="end" fill="#2b2b2b">7 colors overlay</text>
<text x="211.5" y="472.5" font-size="19.0" text-anchor="end" fill="#2b2b2b">Modes+/-</text>
<text x="211.3" y="528" font-size="18.9" text-anchor="end" fill="#2b2b2b">Scene 1-4</text>
<text x="562.7" y="306.5" font-size="18.9" text-anchor="start" fill="#2b2b2b">Loop mode</text>
<text x="562.7" y="353.5" font-size="18.9" text-anchor="start" fill="#2b2b2b">Fading out</text>
<text x="563.5" y="370.6" font-size="12.8" text-anchor="start" fill="#3a3a3a">(From right to lef)/(From left to right)</text>
<text x="563.9" y="411.9" font-size="19.15" text-anchor="start" fill="#2b2b2b">7 colors run circularly</text>
<text x="563.5" y="428.8" font-size="12.8" text-anchor="start" fill="#3a3a3a">(From right to lef)/(From left to right)</text>
<text x="563.0" y="465" font-size="18.9" text-anchor="start" fill="#2b2b2b">1 hour delay off</text>
<text x="563.9" y="488.0" font-size="19.2" text-anchor="start" fill="#2b2b2b">30 minutes delay off</text>
<text x="564.5" y="590" font-size="19.0" text-anchor="start" fill="#2b2b2b">Music Mode 1-4</text>
<text x="229.3" y="721.6" font-size="19.27" text-anchor="start" fill="#f5221a">Note:(CR2025)Battery is not included</text>
<path d="M26.86,243.25 A10.0,10.0 0 0 1 27.46,236.93 L31.76,238.84 A5.3,5.3 0 0 0 31.44,242.19 Z" fill="#f4f4f4" stroke="#f4f4f4" stroke-width="0.4"/>
<path d="M27.46,236.93 A10.0,10.0 0 0 1 33.84,231.39 L35.14,235.91 A5.3,5.3 0 0 0 31.76,238.84 Z" fill="#e8302a" stroke="#e8302a" stroke-width="0.4"/>
<path d="M33.84,231.39 A10.0,10.0 0 0 1 43.29,233.57 L40.15,237.06 A5.3,5.3 0 0 0 35.14,235.91 Z" fill="#f6e100" stroke="#f6e100" stroke-width="0.4"/>
<path d="M43.29,233.57 A10.0,10.0 0 0 1 46.59,241.35 L41.90,241.18 A5.3,5.3 0 0 0 40.15,237.06 Z" fill="#137016" stroke="#137016" stroke-width="0.4"/>
<path d="M46.59,241.35 A10.0,10.0 0 0 1 42.48,249.09 L39.72,245.29 A5.3,5.3 0 0 0 41.90,241.18 Z" fill="#1d8fe2" stroke="#1d8fe2" stroke-width="0.4"/>
<path d="M42.48,249.09 A10.0,10.0 0 0 1 33.68,250.56 L35.05,246.07 A5.3,5.3 0 0 0 39.72,245.29 Z" fill="#18197e" stroke="#18197e" stroke-width="0.4"/>
<path d="M33.68,250.56 A10.0,10.0 0 0 1 26.86,243.25 L31.44,242.19 A5.3,5.3 0 0 0 35.05,246.07 Z" fill="#4a1a8c" stroke="#4a1a8c" stroke-width="0.4"/>
<circle cx="36.6" cy="241.0" r="10" fill="none" stroke="#222" stroke-width="0.6"/>
<circle cx="36.6" cy="241.0" r="5.6" fill="#f4f4f4" stroke="#333" stroke-width="0.6"/>
<text x="36.6" y="243.5" font-size="7" text-anchor="middle" fill="#000" stroke="#000" stroke-width="0.35" textLength="7.6" lengthAdjust="spacingAndGlyphs">CS</text>
<path d="M27.61,262.62 A10.0,10.0 0 0 1 45.47,262.38 L41.30,264.55 A5.3,5.3 0 0 0 31.84,264.68 Z" fill="#167a1a" stroke="#167a1a" stroke-width="0.4"/>
<path d="M45.47,262.38 A10.0,10.0 0 0 1 36.60,277.00 L36.60,272.30 A5.3,5.3 0 0 0 41.30,264.55 Z" fill="#e62020" stroke="#e62020" stroke-width="0.4"/>
<path d="M36.60,277.00 A10.0,10.0 0 0 1 27.61,262.62 L31.84,264.68 A5.3,5.3 0 0 0 36.60,272.30 Z" fill="#161a80" stroke="#161a80" stroke-width="0.4"/>
<circle cx="36.6" cy="267" r="10" fill="none" stroke="#222" stroke-width="0.6"/>
<circle cx="36.6" cy="267" r="5.6" fill="#f4f4f4" stroke="#333" stroke-width="0.6"/>
<text x="36.6" y="269.5" font-size="7" text-anchor="middle" fill="#000" stroke="#000" stroke-width="0.35" textLength="7.6" lengthAdjust="spacingAndGlyphs">C3</text>
<path d="M26.90,295.32 A10.0,10.0 0 0 1 27.69,288.36 L31.88,290.49 A5.3,5.3 0 0 0 31.46,294.18 Z" fill="#4a1490" stroke="#4a1490" stroke-width="0.4"/>
<path d="M27.69,288.36 A10.0,10.0 0 0 1 34.69,283.08 L35.59,287.70 A5.3,5.3 0 0 0 31.88,290.49 Z" fill="#f5381e" stroke="#f5381e" stroke-width="0.4"/>
<path d="M34.69,283.08 A10.0,10.0 0 0 1 42.76,285.02 L39.86,288.72 A5.3,5.3 0 0 0 35.59,287.70 Z" fill="#f96a14" stroke="#f96a14" stroke-width="0.4"/>
<path d="M42.76,285.02 A10.0,10.0 0 0 1 46.60,293.07 L41.90,292.99 A5.3,5.3 0 0 0 39.86,288.72 Z" fill="#f3df00" stroke="#f3df00" stroke-width="0.4"/>
<path d="M46.60,293.07 A10.0,10.0 0 0 1 43.03,300.56 L40.01,296.96 A5.3,5.3 0 0 0 41.90,292.99 Z" fill="#106a12" stroke="#106a12" stroke-width="0.4"/>
<path d="M43.03,300.56 A10.0,10.0 0 0 1 34.35,302.64 L35.41,298.06 A5.3,5.3 0 0 0 40.01,296.96 Z" fill="#1a90e0" stroke="#1a90e0" stroke-width="0.4"/>
<path d="M34.35,302.64 A10.0,10.0 0 0 1 26.90,295.32 L31.46,294.18 A5.3,5.3 0 0 0 35.41,298.06 Z" fill="#1c1a80" stroke="#1c1a80" stroke-width="0.4"/>
<circle cx="36.6" cy="292.9" r="10" fill="none" stroke="#222" stroke-width="0.6"/>
<circle cx="36.6" cy="292.9" r="5.6" fill="#f4f4f4" stroke="#333" stroke-width="0.6"/>
<text x="36.6" y="295.4" font-size="7" text-anchor="middle" fill="#000" stroke="#000" stroke-width="0.35" textLength="7.6" lengthAdjust="spacingAndGlyphs">C7</text>
</svg></body></html>
